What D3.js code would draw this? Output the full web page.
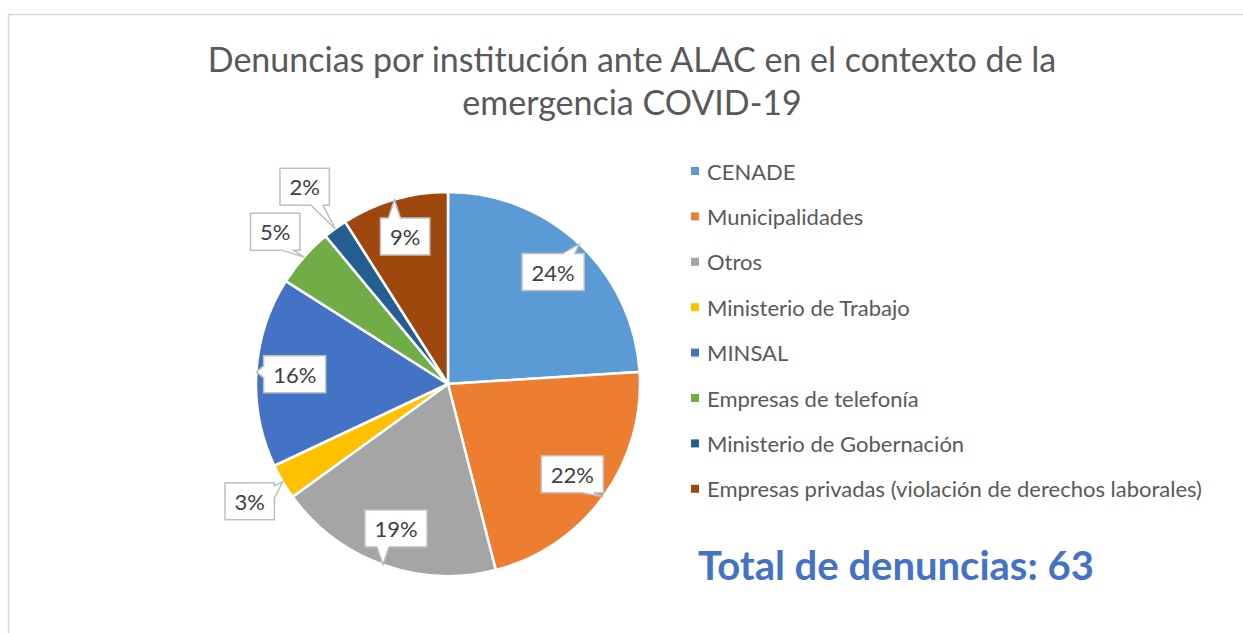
<!DOCTYPE html>
<html>
<head>
<meta charset="utf-8">
<script src="https://cdn.jsdelivr.net/npm/d3@7"></script>
<style>
  body { margin: 0; background: #fff; }
  svg { display: block; font-family: Lato, "Open Sans", sans-serif; }
</style>
</head>
<body>
<svg width="1243" height="633"></svg>
<script>
// data (shares shown on the slices, in %)
var categories = ["CENADE", "Municipalidades", "Otros", "Ministerio de Trabajo", "MINSAL",
                  "Empresas de telefonía", "Ministerio de Gobernación",
                  "Empresas privadas (violación de derechos laborales)"];
var shares = [24, 22, 19, 3, 16, 5, 2, 9];
var colors = ["#5B9BD5", "#ED7D31", "#A5A5A5", "#FFC000", "#4472C4", "#70AD47", "#255E91", "#9E480E"];
var titleLines = ["Denuncias por institución ante ALAC en el contexto de la", "emergencia COVID-19"];
var totalLabel = "Total de denuncias: 63";

var svg = d3.select("svg"),
    cx = 448, cy = 384, r = 192;

var total = d3.sum(shares);

// chart frame (runs off the right and bottom edge)
svg.append("rect")
    .attr("x", 8.5).attr("y", 14.5)
    .attr("width", 1300).attr("height", 700)
    .attr("fill", "none")
    .attr("stroke", "#d9d9d9")
    .attr("stroke-width", 1.5);

// title
svg.append("g").selectAll("text")
    .data(titleLines)
    .enter().append("text")
    .attr("x", 632)
    .attr("y", function(d, i) { return 72 + i * 43; })
    .attr("text-anchor", "middle")
    .style("fill", "#595959")
    .style("font-size", "34px")
    .text(function(d) { return d; });

var pie = d3.pie().sort(null).value(function(d) { return d; });
var arcs = pie(shares);
var arc = d3.arc().innerRadius(0).outerRadius(r);

var g = svg.append("g").attr("transform", "translate(" + cx + "," + cy + ")");

g.selectAll("path.slice")
    .data(arcs)
    .enter().append("path")
    .attr("class", "slice")
    .attr("d", arc)
    .attr("fill", function(d, i) { return colors[i]; })
    .attr("stroke", "#fff")
    .attr("stroke-width", 2.5);

// callout labels
function polar(a, rad) {
    return [Math.sin(a) * rad, -Math.cos(a) * rad];
}

function calloutPath(x0, y0, x1, y1, tx, ty) {
    var w = x1 - x0, h = y1 - y0, mx = (x0 + x1) / 2, my = (y0 + y1) / 2,
        hw = 6, b;
    var nx = (tx - mx) / (w / 2), ny = (ty - my) / (h / 2);
    if (Math.abs(nx) > Math.abs(ny)) {
        b = Math.max(y0 + h * 0.25, Math.min(y1 - h * 0.25, ty));
        if (nx > 0) {
            return "M" + x0 + "," + y0 + "L" + x1 + "," + y0 + "L" + x1 + "," + (b - hw) +
                "L" + tx + "," + ty + "L" + x1 + "," + (b + hw) + "L" + x1 + "," + y1 +
                "L" + x0 + "," + y1 + "Z";
        }
        return "M" + x0 + "," + y0 + "L" + x1 + "," + y0 + "L" + x1 + "," + y1 +
            "L" + x0 + "," + y1 + "L" + x0 + "," + (b + hw) + "L" + tx + "," + ty +
            "L" + x0 + "," + (b - hw) + "Z";
    }
    b = Math.max(x0 + w * 0.25, Math.min(x1 - w * 0.25, tx));
    if (ny < 0) {
        return "M" + x0 + "," + y0 + "L" + (b - hw) + "," + y0 + "L" + tx + "," + ty +
            "L" + (b + hw) + "," + y0 + "L" + x1 + "," + y0 + "L" + x1 + "," + y1 +
            "L" + x0 + "," + y1 + "Z";
    }
    return "M" + x0 + "," + y0 + "L" + x1 + "," + y0 + "L" + x1 + "," + y1 +
        "L" + (b + hw) + "," + y1 + "L" + tx + "," + ty + "L" + (b - hw) + "," + y1 +
        "L" + x0 + "," + y1 + "Z";
}

arcs.forEach(function(d) {
    var a = (d.startAngle + d.endAngle) / 2;
    var lr = d.value <= 2 ? r * 1.27 : (d.value < 6 ? r * 1.2 : r * 0.8);
    var c = polar(a, lr), tip = polar(a, r);
    var lab = g.append("g");
    var path = lab.append("path");
    var t = lab.append("text")
        .attr("x", c[0]).attr("y", c[1])
        .attr("text-anchor", "middle")
        .attr("dominant-baseline", "central")
        .style("fill", "#404040")
        .style("font-size", "22px")
        .text(Math.round(d.value / total * 100) + "%");
    var tw = t.node().getComputedTextLength() + 19, th = 37;
    path.attr("d", calloutPath(c[0] - tw / 2, c[1] - th / 2, c[0] + tw / 2, c[1] + th / 2, tip[0], tip[1]))
        .attr("fill", "#fff")
        .attr("stroke", "#bfbfbf")
        .attr("stroke-width", 1.5);
});

// legend
var legend = svg.append("g").selectAll("g")
    .data(categories)
    .enter().append("g")
    .attr("transform", function(d, i) { return "translate(691," + (171 + i * 45.4) + ")"; });

legend.append("rect")
    .attr("x", 0).attr("y", -4)
    .attr("width", 8).attr("height", 8)
    .attr("fill", function(d, i) { return colors[i]; });

legend.append("text")
    .attr("x", 16)
    .attr("dominant-baseline", "central")
    .style("fill", "#595959")
    .style("font-size", "22px")
    .text(function(d) { return d; });

svg.append("text")
    .attr("x", 698).attr("y", 580)
    .style("fill", "#4472C4")
    .style("font-size", "40px")
    .style("font-weight", "bold")
    .text(totalLabel);
</script>
</body>
</html>
